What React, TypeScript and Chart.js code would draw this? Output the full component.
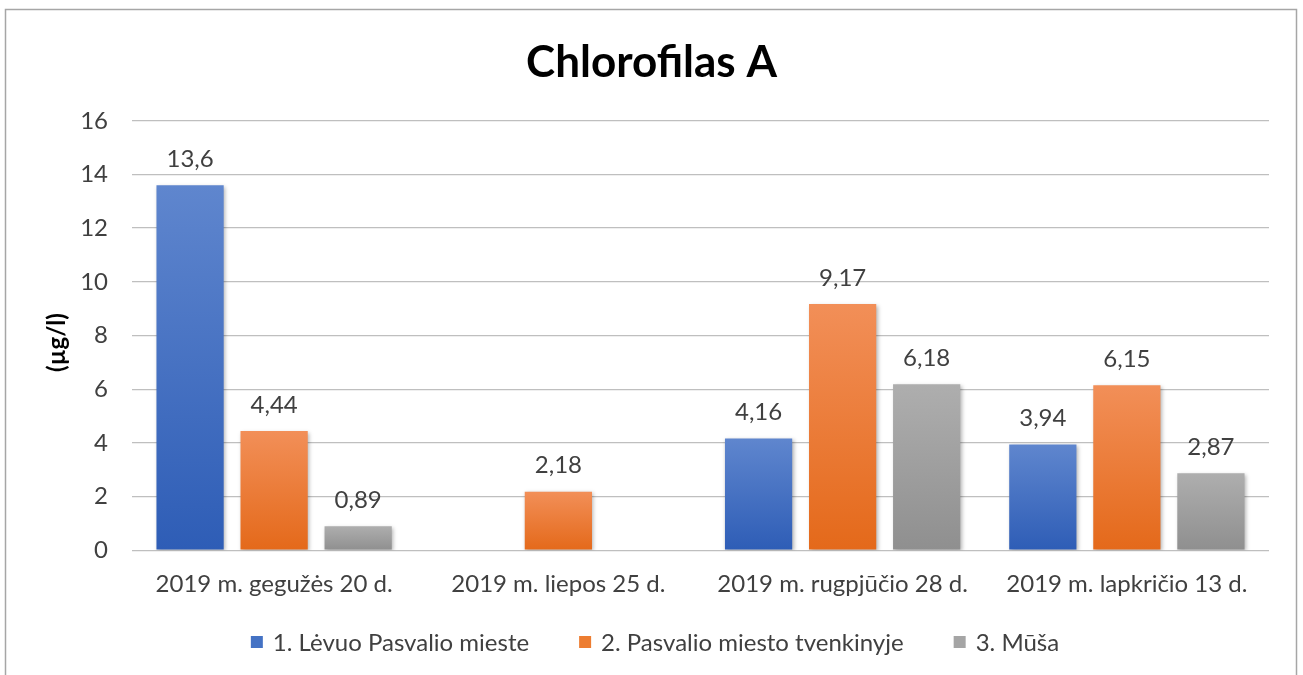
import React, { useEffect, useRef } from "react";
import { Chart, registerables } from "chart.js";

Chart.register(...registerables);

const categories = [
  "2019 m. gegužės 20 d.",
  "2019 m. liepos 25 d.",
  "2019 m. rugpjūčio 28 d.",
  "2019 m. lapkričio 13 d.",
];
const seriesNames = [
  "1. Lėvuo Pasvalio mieste",
  "2. Pasvalio miesto tvenkinyje",
  "3. Mūša",
];
const levuo: (number | null)[] = [13.6, null, 4.16, 3.94];
const tvenkinys: (number | null)[] = [4.44, 2.18, 9.17, 6.15];
const musa: (number | null)[] = [0.89, null, 6.18, 2.87];
const yTicks = [0, 2, 4, 6, 8, 10, 12, 14, 16];
const yTitle = "(µg/l)";
const chartTitle = "Chlorofilas A";

const FONT = "Lato, 'Liberation Sans', sans-serif";
const TEXT = "#404040";
const FS = 24;

const palettes = [
  { top: "#5F86CE", bottom: "#2E5DB6", solid: "#4472C4" },
  { top: "#F28F58", bottom: "#E4691A", solid: "#ED7D31" },
  { top: "#AEAEAE", bottom: "#8F8F8F", solid: "#A5A5A5" },
];

function gradientFor(idx: number) {
  return (c: any) => {
    const chart = c.chart;
    const p = palettes[idx];
    const y = chart.scales?.y;
    if (!y || c.parsed == null || c.parsed.y == null) return p.solid;
    const top = y.getPixelForValue(c.parsed.y);
    const bottom = y.getPixelForValue(0);
    if (!isFinite(top) || !isFinite(bottom) || top === bottom) return p.solid;
    const g = chart.ctx.createLinearGradient(0, top, 0, bottom);
    g.addColorStop(0, p.top);
    g.addColorStop(1, p.bottom);
    return g;
  };
}

const framePlugin = {
  id: "frame",
  beforeDraw(chart: any) {
    const ctx = chart.ctx;
    ctx.save();
    ctx.fillStyle = "#ffffff";
    ctx.fillRect(0, 0, chart.width, chart.height);
    ctx.strokeStyle = "#A6A6A6";
    ctx.lineWidth = 1.5;
    ctx.strokeRect(5.5, 9.5, 1291, 720);
    ctx.restore();
  },
};

const shadowPlugin = {
  id: "barShadow",
  beforeDatasetsDraw(chart: any) {
    const ctx = chart.ctx;
    ctx.save();
    ctx.shadowColor = "rgba(0,0,0,0.30)";
    ctx.shadowBlur = 4;
    ctx.shadowOffsetX = 1.5;
    ctx.shadowOffsetY = 1.5;
  },
  afterDatasetsDraw(chart: any) {
    chart.ctx.restore();
  },
};

const labelPlugin = {
  id: "valueLabels",
  afterDatasetsDraw(chart: any) {
    const ctx = chart.ctx;
    ctx.save();
    ctx.font = `${FS}px ${FONT}`;
    ctx.fillStyle = TEXT;
    ctx.textAlign = "center";
    ctx.textBaseline = "middle";
    chart.data.datasets.forEach((ds: any, i: number) => {
      const meta = chart.getDatasetMeta(i);
      meta.data.forEach((el: any, j: number) => {
        const v = ds.data[j];
        if (v == null) return;
        const txt = String(v).replace(".", ",");
        ctx.fillText(txt, el.x, el.y - 26);
      });
    });
    ctx.restore();
  },
};

const yTitlePlugin = {
  id: "yTitle",
  afterDraw(chart: any) {
    const ctx = chart.ctx;
    const area = chart.chartArea;
    ctx.save();
    ctx.font = `bold ${FS}px ${FONT}`;
    ctx.fillStyle = "#000000";
    ctx.textAlign = "center";
    ctx.textBaseline = "middle";
    ctx.translate(57, (area.top + area.bottom) / 2 + 7);
    ctx.rotate(-Math.PI / 2);
    ctx.fillText(yTitle, 0, 0);
    ctx.restore();
  },
};

const legendPlugin = {
  id: "customLegend",
  afterDraw(chart: any) {
    const ctx = chart.ctx;
    ctx.save();
    ctx.font = `${FS}px ${FONT}`;
    const box = 12;
    const gapBoxText = 10;
    const gapItems = 50;
    const widths = seriesNames.map((n) => ctx.measureText(n).width);
    const total =
      widths.reduce((a, w) => a + box + gapBoxText + w, 0) + gapItems * (seriesNames.length - 1);
    let x = 655 - total / 2;
    const cy = 642;
    ctx.textBaseline = "middle";
    ctx.textAlign = "left";
    seriesNames.forEach((n, i) => {
      ctx.fillStyle = palettes[i].solid;
      ctx.fillRect(x, cy - box / 2, box, box);
      ctx.fillStyle = TEXT;
      ctx.fillText(n, x + box + gapBoxText, cy + 1);
      x += box + gapBoxText + widths[i] + gapItems;
    });
    ctx.restore();
  },
};

export default function App() {
  const ref = useRef<HTMLCanvasElement | null>(null);
  useEffect(() => {
    if (!ref.current) return;
    const seriesData = [levuo, tvenkinys, musa];
    const chart = new Chart(ref.current, {
      type: "bar",
      data: {
        labels: categories,
        datasets: seriesNames.map((name, i) => ({
          label: name,
          data: seriesData[i],
          backgroundColor: gradientFor(i),
          borderWidth: 0,
          categoryPercentage: 0.887,
          barPercentage: 0.8,
        })),
      },
      options: {
        animation: false,
        responsive: false,
        maintainAspectRatio: false,
        layout: { padding: { left: 34, right: 34, top: 0, bottom: 56 } },
        plugins: {
          title: {
            display: true,
            text: chartTitle,
            color: "#000000",
            font: { family: FONT, size: 44, weight: "bold" },
            padding: { top: 36, bottom: 32 },
          },
          legend: { display: false },
          tooltip: { enabled: false },
        },
        scales: {
          x: {
            grid: { display: false, drawTicks: false },
            border: { display: false },
            ticks: {
              color: TEXT,
              font: { family: FONT, size: FS },
              padding: 20,
            },
          },
          y: {
            min: 0,
            max: 16,
            afterBuildTicks: (axis: any) => {
              axis.ticks = yTicks.map((v) => ({ value: v }));
            },
            afterFit: (axis: any) => {
              axis.width = 98;
            },
            grid: { color: "#BFBFBF", lineWidth: 1.3, drawTicks: false },
            border: { display: false },
            ticks: {
              color: TEXT,
              font: { family: FONT, size: FS },
              padding: 24,
            },
          },
        },
      },
      plugins: [framePlugin, shadowPlugin, labelPlugin, yTitlePlugin, legendPlugin],
    });
    return () => chart.destroy();
  }, []);
  return (
    <div style={{ position: "absolute", left: 0, top: 0, width: 1303, height: 675 }}>
      <canvas ref={ref} width={1303} height={675} style={{ width: 1303, height: 675 }} />
    </div>
  );
}
